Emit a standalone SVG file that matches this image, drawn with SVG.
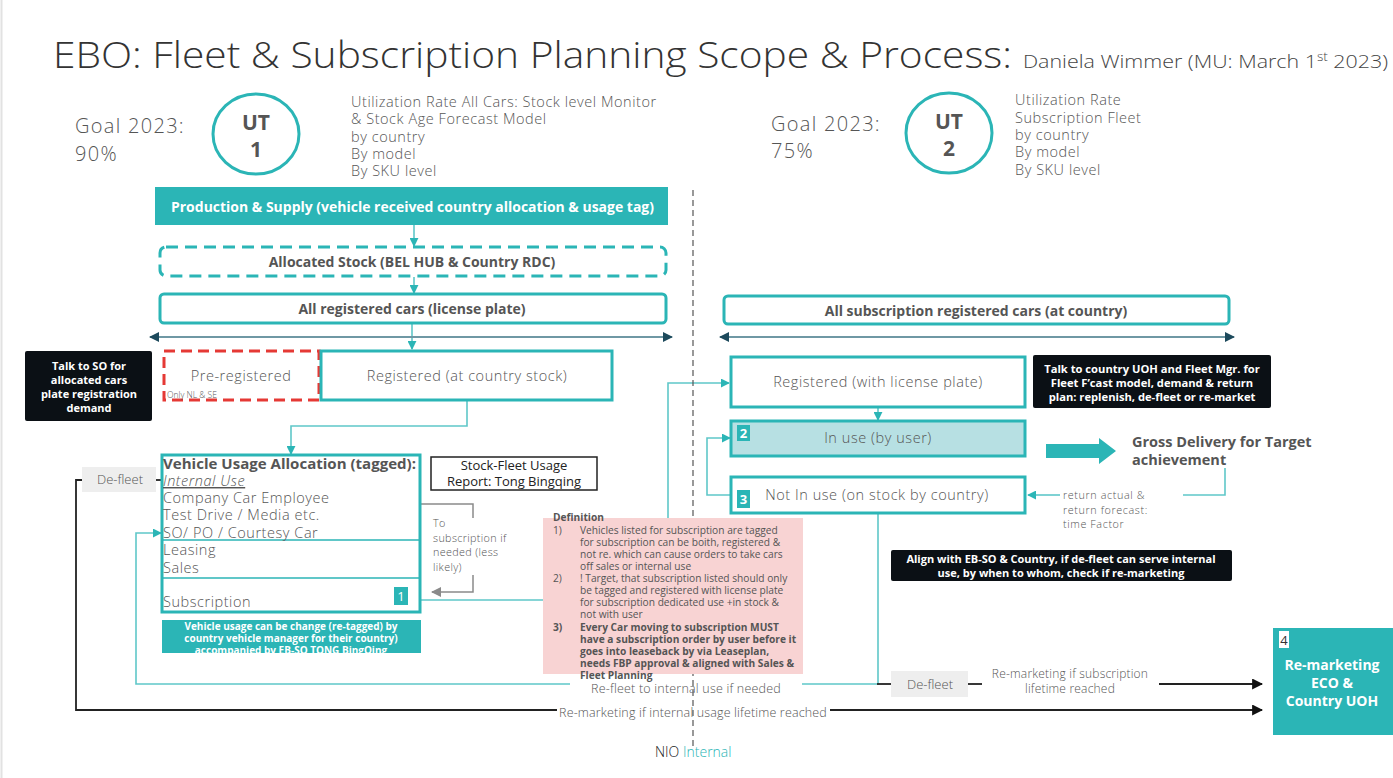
<svg xmlns="http://www.w3.org/2000/svg" width="1393" height="778" viewBox="0 0 1393 778">
<defs>
<style>
text{font-family:"Open Sans",Lato,"Liberation Sans",sans-serif;fill:#555}
.lt{font-weight:300}
.bd{font-weight:700}
.wt{fill:#fff}
.c{text-anchor:middle}
.ls{letter-spacing:0.55px}
.goal{font-size:20px;font-weight:300;letter-spacing:1.3px}
.box{fill:#fff;stroke:#2bb5b6;stroke-width:3}
.fillT{fill:#2bb5b6}
.dark{fill:#0b1015}
.ln{fill:none;stroke:#5fc7c9;stroke-width:1.6}
.blk{fill:none;stroke:#222;stroke-width:1.8}
.gry{fill:none;stroke:#8a8a8a;stroke-width:1.5}
.span{fill:none;stroke:#6f98a4;stroke-width:2}
.defl{fill:#eeeeee}
</style>
<marker id="aTeal" viewBox="0 0 10 10" refX="9" refY="5" markerWidth="9" markerHeight="9" markerUnits="userSpaceOnUse" orient="auto"><path d="M0,0 L10,5 L0,10 z" fill="#2bb5b6"/></marker>
<marker id="aBlk" viewBox="0 0 10 10" refX="9" refY="5" markerWidth="11" markerHeight="11" markerUnits="userSpaceOnUse" orient="auto"><path d="M0,0 L10,5 L0,10 z" fill="#111"/></marker>
<marker id="aGry" viewBox="0 0 10 10" refX="9" refY="5" markerWidth="10" markerHeight="10" markerUnits="userSpaceOnUse" orient="auto"><path d="M0,0 L10,5 L0,10 z" fill="#8a8a8a"/></marker>
<marker id="aSlate" viewBox="0 0 10 10" refX="9" refY="5" markerWidth="10" markerHeight="10" markerUnits="userSpaceOnUse" orient="auto-start-reverse"><path d="M0,0 L10,5 L0,10 z" fill="#1d4a5c"/></marker>
<clipPath id="noteClip"><rect x="162" y="620" width="259" height="33"/></clipPath>
</defs>

<rect width="1393" height="778" fill="#fff"/>
<line x1="1.5" y1="0" x2="1.5" y2="778" stroke="#e2e2e2" stroke-width="2"/>

<!-- heading -->
<g id="title">
<text x="53" y="68" font-size="37" class="lt" style="fill:#333" textLength="959" lengthAdjust="spacingAndGlyphs">EBO: Fleet &amp; Subscription Planning Scope &amp; Process:</text>
<text x="1023" y="68" font-size="19" class="lt" style="fill:#444" textLength="365" lengthAdjust="spacingAndGlyphs">Daniela Wimmer (MU: March 1<tspan dy="-7" font-size="12">st</tspan><tspan dy="7"> 2023)</tspan></text>
</g>

<!-- goal UT1 -->
<g id="goal-ut1">
<text x="75" y="133" class="goal">Goal 2023:</text>
<text x="75" y="161" class="goal">90%</text>
<ellipse cx="256" cy="134" rx="43" ry="40" fill="#fff" stroke="#2bb5b6" stroke-width="3"/>
<text x="256" y="130" font-size="21" class="bd c">UT</text>
<text x="256" y="157" font-size="21" class="bd c">1</text>
<g font-size="14.5">
<text x="351" y="107" class="lt ls">Utilization Rate All Cars: Stock level Monitor</text>
<text x="351" y="124" class="lt ls">&amp; Stock Age Forecast Model</text>
<text x="351" y="142" class="lt ls">by country</text>
<text x="351" y="159" class="lt ls">By model</text>
<text x="351" y="176" class="lt ls">By SKU level</text>
</g>
</g>

<!-- goal UT2 -->
<g id="goal-ut2">
<text x="771" y="131" class="goal">Goal 2023:</text>
<text x="771" y="158" class="goal">75%</text>
<ellipse cx="949" cy="133" rx="43" ry="40" fill="#fff" stroke="#2bb5b6" stroke-width="3"/>
<text x="949" y="129" font-size="21" class="bd c">UT</text>
<text x="949" y="156" font-size="21" class="bd c">2</text>
<g font-size="14.5">
<text x="1015" y="105" class="lt ls">Utilization Rate</text>
<text x="1015" y="123" class="lt ls">Subscription Fleet</text>
<text x="1015" y="140" class="lt ls">by country</text>
<text x="1015" y="157" class="lt ls">By model</text>
<text x="1015" y="175" class="lt ls">By SKU level</text>
</g>
</g>

<!-- connectors -->
<g id="connectors">
<line x1="414" y1="225" x2="414" y2="246" class="ln" marker-end="url(#aTeal)"/>
<line x1="414" y1="277" x2="414" y2="293" class="ln" marker-end="url(#aTeal)"/>
<line x1="412" y1="324" x2="412" y2="349" class="ln" marker-end="url(#aTeal)"/>
<line x1="150" y1="337" x2="672" y2="337" class="span" marker-start="url(#aSlate)" marker-end="url(#aSlate)"/>
<line x1="720" y1="337" x2="1234" y2="337" class="span" marker-start="url(#aSlate)" marker-end="url(#aSlate)"/>
<path d="M467,401 V426 H291 V454" class="ln" marker-end="url(#aTeal)"/>
<!-- subscription tag to subscription fleet -->
<path d="M421,600 H668 V383 H729" class="ln" marker-end="url(#aTeal)"/>
<line x1="878" y1="408" x2="878" y2="420" class="ln" marker-end="url(#aTeal)"/>
<path d="M731,495 H707 V438 H730" class="ln" marker-end="url(#aTeal)"/>
<!-- return loop -->
<path d="M1225,468 V495 H1183" class="ln"/>
<line x1="1060" y1="495" x2="1028" y2="495" class="ln" marker-end="url(#aTeal)"/>
<!-- re-fleet loop -->
<path d="M878,514 V684 H136 V533 H161" class="ln" marker-end="url(#aTeal)"/>
<!-- to subscription bracket -->
<path d="M421,504 H473 V518" class="gry"/>
<path d="M473,575 V592 H432" class="gry" marker-end="url(#aGry)"/>
<!-- de-fleet left / re-marketing -->
<line x1="162" y1="480" x2="155" y2="480" class="blk"/>
<path d="M82,480 H76 V710 H1262" class="blk" marker-end="url(#aBlk)"/>
<line x1="877" y1="684" x2="891" y2="684" class="blk"/>
<line x1="968" y1="684" x2="982" y2="684" class="blk"/>
<line x1="1159" y1="684" x2="1262" y2="684" class="blk" marker-end="url(#aBlk)"/>
<!-- gross delivery arrow -->
<path d="M1046,444 H1099 V438 L1116,451 L1099,464 V458 H1046 Z" fill="#2bb5b6"/>
</g>

<!-- labels on connectors -->
<g id="connector-labels">
<rect x="570" y="676" width="232" height="19" fill="#fff"/>
<text x="686" y="693" font-size="12.5" class="lt c" letter-spacing="0.2">Re-fleet to internal use if needed</text>
<rect x="557" y="702" width="273" height="18" fill="#fff"/>
<text x="693" y="717" font-size="12.5" class="lt c" letter-spacing="0.15">Re-marketing if internal usage lifetime reached</text>
<text x="1070" y="678" font-size="12" class="lt c" letter-spacing="0.2">Re-marketing if subscription</text>
<text x="1070" y="693" font-size="12" class="lt c" letter-spacing="0.2">lifetime reached</text>
<g font-size="10.8">
<text x="433" y="527" class="lt" letter-spacing="0.35">To</text>
<text x="433" y="541.5" class="lt" letter-spacing="0.35">subscription if</text>
<text x="433" y="556" class="lt" letter-spacing="0.35">needed (less</text>
<text x="433" y="570.5" class="lt" letter-spacing="0.35">likely)</text>
</g>
<g font-size="10.8">
<text x="1063" y="499" class="lt" letter-spacing="0.6">return actual &amp;</text>
<text x="1063" y="513.5" class="lt" letter-spacing="0.6">return forecast:</text>
<text x="1063" y="528" class="lt" letter-spacing="0.6">time Factor</text>
</g>
</g>

<!-- column divider -->
<line x1="693" y1="190" x2="693" y2="746" stroke="#555" stroke-width="1.2" stroke-dasharray="6,4"/>

<!-- left column -->
<g id="production-supply">
<rect x="155" y="187" width="513" height="38" class="fillT"/>
<text x="171" y="212" font-size="14" class="bd wt" textLength="483" lengthAdjust="spacingAndGlyphs">Production &amp; Supply   (vehicle received country allocation &amp; usage tag)</text>
</g>

<g id="allocated-stock">
<rect x="160" y="247" width="506" height="29" rx="6" fill="#fff" stroke="#2bb5b6" stroke-width="3" stroke-dasharray="12,7"/>
<text x="412" y="267" font-size="14" class="bd c">Allocated Stock (BEL HUB &amp; Country RDC)</text>
</g>

<g id="all-registered">
<rect x="160" y="294" width="506" height="29" rx="4" class="box"/>
<text x="412" y="314" font-size="14" class="bd c">All registered cars (license plate)</text>
</g>

<g id="talk-so">
<rect x="25" y="351" width="127" height="70" rx="2" class="dark"/>
<g font-size="11">
<text x="89" y="370" class="bd c wt">Talk to SO for</text>
<text x="89" y="384" class="bd c wt">allocated cars</text>
<text x="89" y="398" class="bd c wt">plate registration</text>
<text x="89" y="412" class="bd c wt">demand</text>
</g>
</g>

<g id="pre-registered">
<rect x="164" y="351" width="155" height="49" fill="#fff" stroke="#e53935" stroke-width="3" stroke-dasharray="11,6"/>
<text x="241" y="381" font-size="14.5" class="lt c ls">Pre-registered</text>
<text x="167" y="398" font-size="8.5" class="lt">Only NL &amp; SE</text>
</g>

<g id="registered-country">
<rect x="321" y="351" width="291" height="49" class="box"/>
<text x="467" y="381" font-size="14.5" class="lt c ls">Registered (at country stock)</text>
</g>

<g id="de-fleet-left">
<rect x="82" y="467" width="74" height="25" class="defl"/>
<text x="120" y="484" font-size="13" class="lt c">De-fleet</text>
</g>

<g id="vehicle-usage">
<rect x="162" y="455" width="258" height="157" class="box"/>
<line x1="163" y1="540" x2="419" y2="540" stroke="#2bb5b6" stroke-width="1.5"/>
<line x1="163" y1="578" x2="419" y2="578" stroke="#2bb5b6" stroke-width="1.5"/>
<text x="163" y="469" font-size="14" class="bd" textLength="253" lengthAdjust="spacingAndGlyphs">Vehicle Usage Allocation (tagged):</text>
<g font-size="14.5">
<text x="163" y="486" class="lt ls" font-style="italic" text-decoration="underline">Internal Use</text>
<text x="163" y="503" class="lt ls">Company Car Employee</text>
<text x="163" y="520" class="lt ls">Test Drive / Media etc.</text>
<text x="163" y="538" class="lt ls">SO/ PO / Courtesy Car</text>
<text x="163" y="555" class="lt ls">Leasing</text>
<text x="163" y="573" class="lt ls">Sales</text>
<text x="163" y="607" class="lt ls">Subscription</text>
</g>
<rect x="394" y="587" width="14" height="18" class="fillT"/>
<text x="401" y="601" font-size="13" class="c wt">1</text>
</g>

<g id="usage-note">
<rect x="162" y="620" width="259" height="33" class="fillT"/>
<g clip-path="url(#noteClip)" font-size="10">
<text x="291" y="630" class="bd c wt">Vehicle usage can be change (re-tagged) by</text>
<text x="291" y="642" class="bd c wt">country vehicle manager for their country)</text>
<text x="291" y="654" class="bd c wt">accompanied by EB-SO TONG BingQing</text>
</g>
</g>

<g id="usage-report">
<rect x="431" y="457" width="166" height="33" fill="#fff" stroke="#222" stroke-width="1.5"/>
<text x="514" y="470" font-size="13" class="c" style="fill:#222">Stock-Fleet Usage</text>
<text x="514" y="486" font-size="13" class="c" style="fill:#222">Report: Tong Bingqing</text>
</g>

<g id="definition">
<rect x="543" y="518" width="260" height="156" fill="#f8d3d3"/>
<g font-size="10.2">
<text x="553" y="521" class="bd">Definition</text>
<text x="553" y="534">1)</text>
<text x="580" y="534">Vehicles listed for subscription are tagged</text>
<text x="580" y="546">for subscription can be boith, registered &amp;</text>
<text x="580" y="558">not re. which can cause orders to take cars</text>
<text x="580" y="570">off sales or internal use</text>
<text x="553" y="582">2)</text>
<text x="580" y="582">! Target, that subscription listed should only</text>
<text x="580" y="594">be tagged and registered with license plate</text>
<text x="580" y="606">for subscription dedicated use +in stock &amp;</text>
<text x="580" y="618">not with user</text>
<text x="553" y="631" class="bd">3)</text>
<text x="580" y="631" class="bd">Every Car moving to subscription MUST</text>
<text x="580" y="643" class="bd">have a subscription order by user before it</text>
<text x="580" y="655" class="bd">goes into leaseback by via Leaseplan,</text>
<text x="580" y="667" class="bd">needs FBP approval &amp; aligned with Sales &amp;</text>
<text x="580" y="679" class="bd">Fleet Planning</text>
</g>
</g>

<!-- right column -->
<g id="all-subscription">
<rect x="724" y="296" width="505" height="28" rx="4" class="box"/>
<text x="976" y="316" font-size="14" class="bd c">All subscription registered cars (at country)</text>
</g>

<g id="registered-plate">
<rect x="731" y="357" width="294" height="50" class="box"/>
<text x="878" y="387" font-size="14.5" class="lt c ls">Registered (with license plate)</text>
</g>

<g id="talk-uoh">
<rect x="1033" y="355" width="238" height="53" rx="2" class="dark"/>
<g font-size="11.2">
<text x="1152" y="373" class="bd c wt">Talk to country UOH and Fleet Mgr. for</text>
<text x="1152" y="387" class="bd c wt">Fleet F’cast model, demand &amp; return</text>
<text x="1152" y="401" class="bd c wt">plan: replenish, de-fleet or re-market</text>
</g>
</g>

<g id="in-use">
<rect x="731" y="421" width="294" height="35" fill="#b7e0e3" stroke="#2bb5b6" stroke-width="3"/>
<rect x="737" y="425" width="13" height="16" class="fillT"/>
<text x="743.5" y="438" font-size="13" class="bd c wt">2</text>
<text x="878" y="443" font-size="14.5" class="lt c ls">In use (by user)</text>
</g>

<g id="not-in-use">
<rect x="731" y="477" width="294" height="36" class="box"/>
<rect x="737" y="490" width="13" height="18" class="fillT"/>
<text x="743.5" y="504" font-size="13" class="bd c wt">3</text>
<text x="877" y="500" font-size="14.5" class="lt c ls">Not In use (on stock by country)</text>
</g>

<g id="gross-delivery">
<text x="1132" y="447" font-size="14.5" class="bd">Gross Delivery for Target</text>
<text x="1132" y="465" font-size="14.5" class="bd">achievement</text>
</g>

<g id="align-note">
<rect x="891" y="550" width="341" height="31" rx="2" class="dark"/>
<g font-size="11">
<text x="1061" y="563" class="bd c wt">Align with EB-SO &amp; Country, if de-fleet can serve internal</text>
<text x="1061" y="577" class="bd c wt">use, by when to whom, check if re-marketing</text>
</g>
</g>

<g id="de-fleet-right">
<rect x="891" y="671" width="77" height="26" class="defl"/>
<text x="930" y="689" font-size="13" class="lt c">De-fleet</text>
</g>

<g id="re-marketing">
<rect x="1273" y="628" width="120" height="107" class="fillT"/>
<rect x="1279" y="631" width="10" height="17" fill="#fff"/>
<text x="1284" y="645" font-size="13" class="c" style="fill:#333">4</text>
<g font-size="14">
<text x="1332" y="670" class="bd c wt">Re-marketing</text>
<text x="1332" y="688" class="bd c wt">ECO &amp;</text>
<text x="1332" y="706" class="bd c wt">Country UOH</text>
</g>
</g>

<g id="footer">
<text x="655" y="757" font-size="14" class="lt" style="fill:#222">NIO <tspan style="fill:#2bb5b6">Internal</tspan></text>
</g>
</svg>
